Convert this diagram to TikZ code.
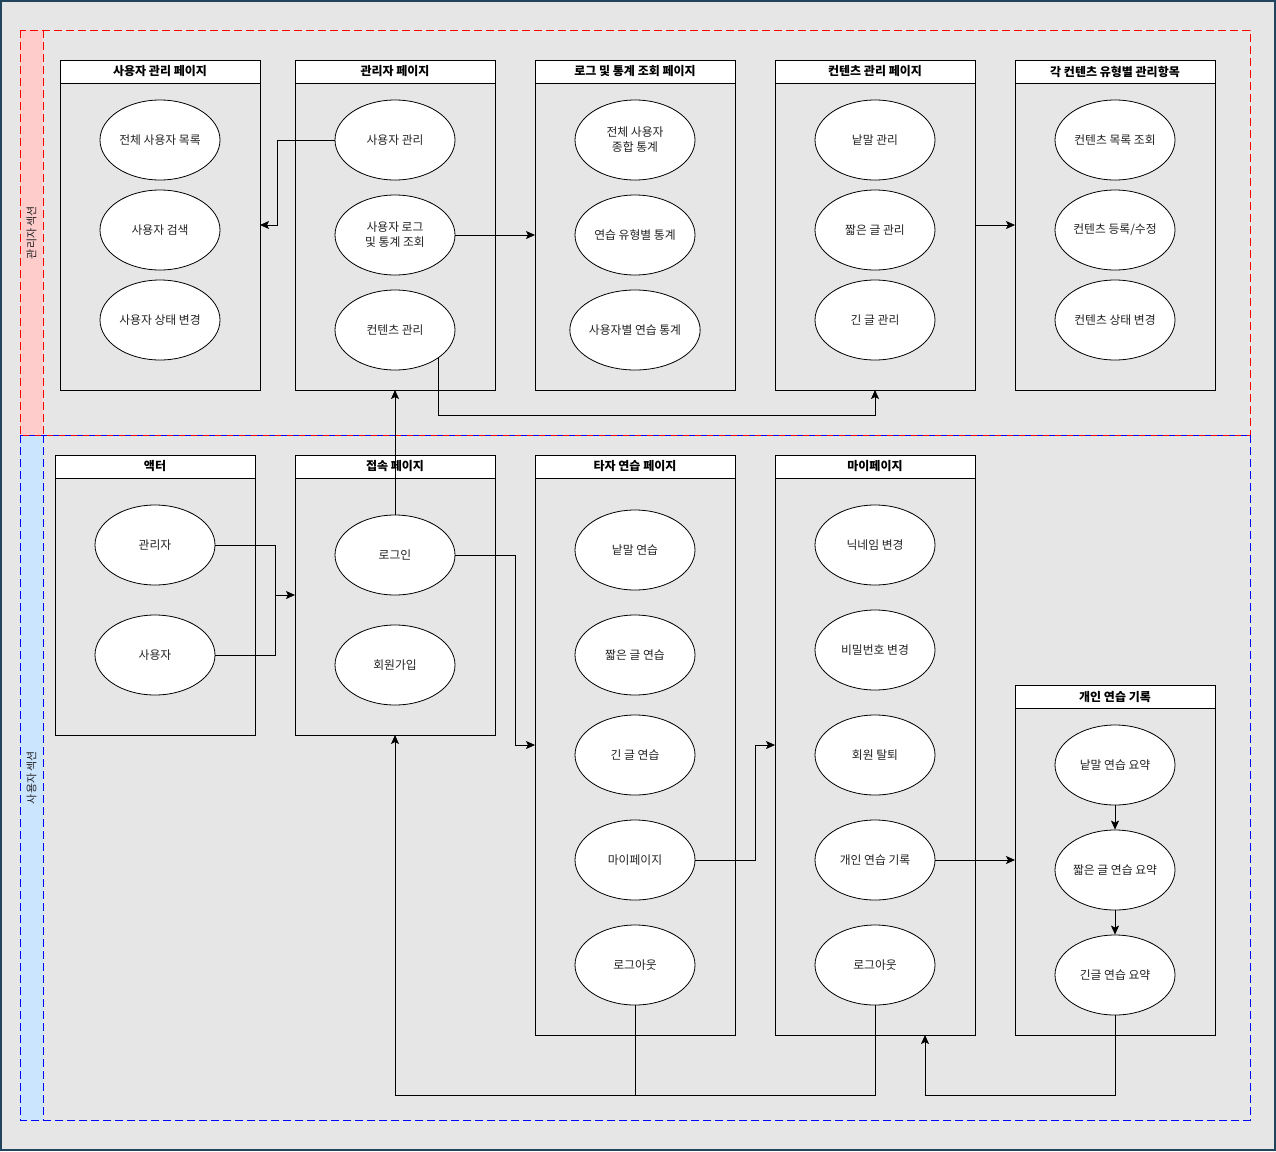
\documentclass[tikz,border=0pt]{standalone}
\usepackage{fontspec}
\setmainfont{Noto Sans CJK KR}
\usetikzlibrary{shapes.geometric,arrows.meta,calc}
\definecolor{bggray}{HTML}{E6E6E6}
\definecolor{frameblue}{HTML}{23445D}
\definecolor{adminpink}{HTML}{FFCCCC}
\definecolor{userblue}{HTML}{CCE5FF}
\definecolor{dashred}{HTML}{FF0000}
\definecolor{dashblue}{HTML}{0000FF}
\definecolor{txt}{HTML}{222222}

\tikzset{
  poolline/.style={dash pattern=on 8pt off 4pt, line width=0.9pt},
  container/.style={draw=black, line width=0.9pt, inner sep=0pt, outer sep=0pt, anchor=north west},
  header/.style={draw=black, fill=white, line width=0.9pt, inner sep=0pt, outer sep=0pt,
    anchor=north west, minimum height=23pt, font=\fontsize{12}{14}\selectfont\bfseries},
  usecase/.style={ellipse, draw=black, fill=white, line width=0.8pt, minimum width=120pt,
    minimum height=80pt, inner sep=0pt, align=center, text=txt,
    font=\fontsize{11.8}{15}\selectfont},
  lanelabel/.style={rotate=90, text=txt, font=\fontsize{11}{12}\selectfont},
  link/.style={draw=black, line width=0.8pt},
  arr/.style={link, -{Stealth[length=9pt,width=8pt,inset=2pt]}}
}

\begin{document}
\begin{tikzpicture}[x=1pt, y=-1pt]
\useasboundingbox (0,0) rectangle (1276,1151);
\fill[bggray] (0,0) rectangle (1276,1151);
\draw[frameblue, line width=2pt] (1,1) rectangle (1275,1150);

% section strips
\fill[adminpink] (20,30) rectangle (43,435);
\fill[userblue] (20,435) rectangle (43,1120);
\node[lanelabel] (adminlabel) at (31.5,232.5) {관리자 섹션};
\node[lanelabel] (userlabel) at (31.5,777.5) {사용자 섹션};
\draw[poolline, dashred] (20,30) rectangle (1250,435);
\draw[poolline, dashred] (43,30) -- (43,435);
\draw[poolline, dashblue, dash pattern=on 6pt off 6pt, dash phase=3pt] (20,435) -- (1250,435);
\draw[poolline, dashblue] (1250,435) -- (1250,1120) -- (20,1120) -- (20,435);
\draw[poolline, dashblue] (43,435) -- (43,1120);

% ---------- admin section containers ----------
\node[container, minimum width=200pt, minimum height=330pt] (upg) at (60,60) {};
\node[header, minimum width=200pt] (upgh) at (60,60) {사용자 관리 페이지};
\node[container, minimum width=200pt, minimum height=330pt] (apg) at (295,60) {};
\node[header, minimum width=200pt] (apgh) at (295,60) {관리자 페이지};
\node[container, minimum width=200pt, minimum height=330pt] (lpg) at (535,60) {};
\node[header, minimum width=200pt] (lpgh) at (535,60) {로그 및 통계 조회 페이지};
\node[container, minimum width=200pt, minimum height=330pt] (cpg) at (775,60) {};
\node[header, minimum width=200pt] (cpgh) at (775,60) {컨텐츠 관리 페이지};
\node[container, minimum width=200pt, minimum height=330pt] (tpg) at (1015,60) {};
\node[header, minimum width=200pt] (tpgh) at (1015,60) {각 컨텐츠 유형별 관리항목};

% user management page
\node[usecase] (ulist) at (160,140) {전체 사용자 목록};
\node[usecase] (usearch) at (160,230) {사용자 검색};
\node[usecase] (ustate) at (160,320) {사용자 상태 변경};
% admin page
\node[usecase] (amuser) at (395,140) {사용자 관리};
\node[usecase] (amlog) at (395,235) {사용자 로그\\및 통계 조회};
\node[usecase] (amcont) at (395,330) {컨텐츠 관리};
% log and statistics page
\node[usecase] (stall) at (635,140) {전체 사용자\\종합 통계};
\node[usecase] (sttype) at (635,235) {연습 유형별 통계};
\node[usecase] (stuser) at (635,330) {사용자별 연습 통계};
% content management page
\node[usecase] (cword) at (875,140) {낱말 관리};
\node[usecase] (cshort) at (875,230) {짧은 글 관리};
\node[usecase] (clong) at (875,320) {긴 글 관리};
% per-type items
\node[usecase] (tlist) at (1115,140) {컨텐츠 목록 조회};
\node[usecase] (tedit) at (1115,230) {컨텐츠 등록/수정};
\node[usecase] (tstate) at (1115,320) {컨텐츠 상태 변경};

% ---------- user section containers ----------
\node[container, minimum width=200pt, minimum height=280pt] (act) at (55,455) {};
\node[header, minimum width=200pt] (acth) at (55,455) {액터};
\node[container, minimum width=200pt, minimum height=280pt] (acc) at (295,455) {};
\node[header, minimum width=200pt] (acch) at (295,455) {접속 페이지};
\node[container, minimum width=200pt, minimum height=580pt] (typ) at (535,455) {};
\node[header, minimum width=200pt] (typh) at (535,455) {타자 연습 페이지};
\node[container, minimum width=200pt, minimum height=580pt] (myp) at (775,455) {};
\node[header, minimum width=200pt] (myph) at (775,455) {마이페이지};
\node[container, minimum width=200pt, minimum height=350pt] (rec) at (1015,685) {};
\node[header, minimum width=200pt] (rech) at (1015,685) {개인 연습 기록};

% actors
\node[usecase] (aadmin) at (155,545) {관리자};
\node[usecase] (auser) at (155,655) {사용자};
% access page
\node[usecase] (login) at (395,555) {로그인};
\node[usecase] (signup) at (395,665) {회원가입};
% typing page
\node[usecase] (pword) at (635,550) {낱말 연습};
\node[usecase] (pshort) at (635,655) {짧은 글 연습};
\node[usecase] (plong) at (635,755) {긴 글 연습};
\node[usecase] (pmy) at (635,860) {마이페이지};
\node[usecase] (pout) at (635,965) {로그아웃};
% my page
\node[usecase] (mnick) at (875,545) {닉네임 변경};
\node[usecase] (mpw) at (875,650) {비밀번호 변경};
\node[usecase] (mquit) at (875,755) {회원 탈퇴};
\node[usecase] (mrec) at (875,860) {개인 연습 기록};
\node[usecase] (mout) at (875,965) {로그아웃};
% practice records
\node[usecase] (rword) at (1115,765) {낱말 연습 요약};
\node[usecase] (rshort) at (1115,870) {짧은 글 연습 요약};
\node[usecase] (rlong) at (1115,975) {긴글 연습 요약};

% ---------- connectors ----------
\coordinate (bendum) at (277,140);
\draw[arr] (amuser.west) -- (bendum) |- (upg.east);
\draw[arr] (amlog.east) -- (amlog.east -| lpg.west);
\draw[arr] (amcont.-33) -- (amcont.-33 |- 0,415) -| (cpg.south);
\draw[arr] (cpg.east) -- (tpg.west);
\draw[arr] (login.north) -- (apg.south);

\coordinate (actjoin) at (275,595);
\draw[link] (aadmin.east) -| (actjoin);
\draw[link] (auser.east) -| (actjoin);
\draw[arr] (actjoin) -- (acc.west);

\coordinate (loginbend) at (515,555);
\draw[arr] (login.east) -- (loginbend) |- (typ.west);
\coordinate (mybend) at (755,860);
\draw[arr] (pmy.east) -- (mybend) |- (myp.west);
\draw[arr] (mrec.east) -- (rec.west);
\draw[arr] (rword.south) -- (rshort.north);
\draw[arr] (rshort.south) -- (rlong.north);

\coordinate (outjoin) at (635,1095);
\draw[arr] (pout.south) -- (outjoin) -| (acc.south);
\draw[link] (mout.south) |- (outjoin);
\coordinate (recin) at (925,1035);
\draw[arr] (rlong.south) |- (recin |- 0,1095) -- (recin);
\end{tikzpicture}
\end{document}
